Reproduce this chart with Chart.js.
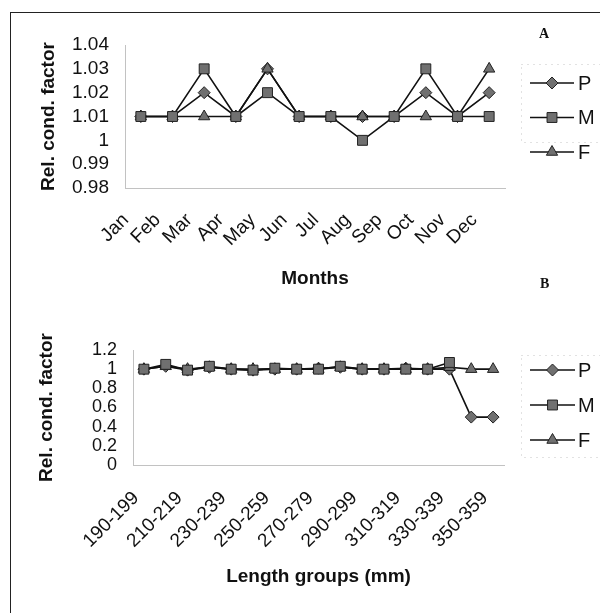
<!DOCTYPE html>
<html>
<head>
<meta charset="utf-8">
<script src="https://cdn.jsdelivr.net/npm/chart.js@4/dist/chart.umd.min.js"></script>
<style>
  html, body { margin:0; padding:0; background:#fff; }
  #wrap { position:relative; width:600px; height:613px; overflow:hidden; background:#fff; }
  #frame { position:absolute; left:10px; top:12px; width:600px; height:620px; border-top:1.5px solid #222; border-left:1.5px solid #222; }
  canvas { position:absolute; left:0; }
  #cA { top:0; }
  #cB { top:300px; }
  .tag { position:absolute; font-family:"Liberation Serif","Times New Roman",serif; font-weight:bold; font-size:14px; color:#111; }
</style>
</head>
<body>
<div id="wrap">
  <div id="frame"></div>
  <canvas id="cA" width="600" height="300"></canvas>
  <canvas id="cB" width="600" height="313"></canvas>
  <div class="tag" style="left:539px; top:26px;">A</div>
  <div class="tag" style="left:540px; top:276px;">B</div>
</div>
<script>
// ---- Panel A data (by month) ----
const months = ['Jan','Feb','Mar','Apr','May','Jun','Jul','Aug','Sep','Oct','Nov','Dec'];
const pA = [1.01, 1.01, 1.02, 1.01, 1.03, 1.01, 1.01, 1.01, 1.01, 1.02, 1.01, 1.02];
const mA = [1.01, 1.01, 1.03, 1.01, 1.02, 1.01, 1.01, 1.00, 1.01, 1.03, 1.01, 1.01];
const fA = [1.01, 1.01, 1.01, 1.01, 1.03, 1.01, 1.01, 1.01, 1.01, 1.01, 1.01, 1.03];
const yTicksA = [0.98, 0.99, 1.00, 1.01, 1.02, 1.03, 1.04];

// ---- Panel B data (by length group) ----
const lengthGroups = ['190-199','200-209','210-219','220-229','230-239','240-249','250-259','260-269','270-279','280-289','290-299','300-309','310-319','320-329','330-339','340-349','350-359'];
const pB = [1.00, 1.03, 0.99, 1.02, 1.00, 0.99, 1.00, 1.00, 1.01, 1.02, 1.00, 1.00, 1.01, 1.00, 1.00, 0.50, 0.50];
const mB = [1.00, 1.05, 0.99, 1.03, 1.00, 0.99, 1.01, 1.00, 1.00, 1.03, 1.00, 1.00, 1.00, 1.00, 1.07, null, null];
const fB = [1.00, 1.03, 1.00, 1.02, 1.00, 1.00, 1.00, 1.00, 1.00, 1.02, 1.00, 1.00, 1.00, 1.00, 1.02, 1.00, 1.00];
const yTicksB = [0, 0.2, 0.4, 0.6, 0.8, 1.0, 1.2];

const seriesNames = ['P', 'M', 'F'];

const FONT = 'Arial, "Liberation Sans", sans-serif';

const lineLegend = {
  id: 'lineLegend',
  afterDraw(chart, args, o) {
    const ctx = chart.ctx;
    ctx.save();
    ctx.strokeStyle = '#c4c4c4';
    ctx.lineWidth = 1;
    ctx.setLineDash([1, 5]);
    ctx.strokeRect(o.box[0] + 0.5, o.box[1] + 0.5, o.box[2], o.box[3]);
    ctx.setLineDash([]);
    chart.data.datasets.forEach((ds, i) => {
      const y = o.y0 + i * o.gap;
      ctx.strokeStyle = '#111';
      ctx.lineWidth = 1.5;
      ctx.beginPath(); ctx.moveTo(o.x0, y); ctx.lineTo(o.x1, y); ctx.stroke();
      ctx.fillStyle = ds.pointBackgroundColor;
      ctx.strokeStyle = ds.pointBorderColor;
      ctx.lineWidth = 1;
      Chart.helpers.drawPoint(ctx, { pointStyle: ds.pointStyle, radius: ds.pointRadius, borderWidth: 1, rotation: 0 }, (o.x0 + o.x1) / 2, y);
      ctx.fillStyle = '#111';
      ctx.font = '20px ' + FONT;
      ctx.textBaseline = 'middle';
      ctx.textAlign = 'left';
      ctx.fillText(ds.label, o.tx, y + 1);
    });
    ctx.restore();
  }
};

function mkDatasets(p, m, f) {
  const base = { borderColor: '#111', borderWidth: 1.6, pointBackgroundColor: '#707070', pointBorderColor: '#222', pointBorderWidth: 1, tension: 0, spanGaps: false, clip: false };
  return [
    Object.assign({}, base, { label: seriesNames[0], data: p, pointStyle: 'rectRot', pointRadius: 6, order: 2 }),
    Object.assign({}, base, { label: seriesNames[1], data: m, pointStyle: 'rect', pointRadius: 7, order: 0 }),
    Object.assign({}, base, { label: seriesNames[2], data: f, pointStyle: 'triangle', pointRadius: 6.5, order: 1 })
  ];
}

function mkChart(id, cfg) {
  return new Chart(document.getElementById(id), {
    type: 'line',
    data: { labels: cfg.labels, datasets: mkDatasets(cfg.p, cfg.m, cfg.f) },
    plugins: [lineLegend],
    options: {
      responsive: false,
      animation: false,
      devicePixelRatio: 1,
      layout: { padding: cfg.padding },
      plugins: { legend: { display: false }, tooltip: { enabled: false }, lineLegend: cfg.legend },
      scales: {
        x: {
          type: 'category',
          offset: true,
          grid: { display: false, drawTicks: false },
          border: { display: true, color: '#c2c2c2', width: 1, dash: [1, 6] },
          ticks: {
            autoSkip: false, minRotation: 45, maxRotation: 45,
            padding: cfg.xPad, labelOffset: cfg.xLabelOffset,
            color: '#111', font: { family: FONT, size: 19 },
            callback: cfg.xCallback
          },
          title: { display: true, text: cfg.xTitle, color: '#111', padding: 0, font: { family: FONT, size: 19, weight: 'bold' } },
          afterFit(s) { s.height = cfg.xHeight; }
        },
        y: {
          min: cfg.yMin, max: cfg.yMax,
          grid: { display: false, drawTicks: false },
          border: { display: true, color: '#c2c2c2', width: 1, dash: [1, 6] },
          afterBuildTicks(s) { s.ticks = cfg.yTicks.map(v => ({ value: v })); },
          ticks: {
            autoSkip: false,
            padding: cfg.yPad, color: '#111', font: { family: FONT, size: cfg.yFont, lineHeight: 1 },
            callback: v => String(+Number(v).toFixed(2))
          },
          title: { display: true, text: 'Rel. cond. factor', color: '#111', padding: 0, font: { family: FONT, size: 19, weight: 'bold' } },
          afterFit(s) { s.width = cfg.yWidth; }
        }
      }
    }
  });
}

mkChart('cA', {
  labels: months, p: pA, m: mA, f: fA,
  yMin: 0.98, yMax: 1.04, yTicks: yTicksA,
  xTitle: 'Months',
  padding: { left: 37, top: 45, right: 95, bottom: 10 },
  yWidth: 88, xHeight: 102, yPad: 16, yFont: 19, xPad: 21, xLabelOffset: -15,
  xCallback: function (v, i) { return this.getLabelForValue(v); },
  legend: { box: [521, 64, 80, 78], x0: 530, x1: 574, y0: 83, gap: 34.5, tx: 578 }
});

mkChart('cB', {
  labels: lengthGroups, p: pB, m: mB, f: fB,
  yMin: 0, yMax: 1.2, yTicks: yTicksB,
  xTitle: 'Length groups (mm)',
  padding: { left: 35, top: 50, right: 96, bottom: 25 },
  yWidth: 98, xHeight: 123, yPad: 16, yFont: 18, xPad: 22, xLabelOffset: -8,
  xCallback: function (v, i) { return i % 2 === 0 ? this.getLabelForValue(v) : ''; },
  legend: { box: [521, 55, 80, 102], x0: 530, x1: 575, y0: 70, gap: 35, tx: 578 }
});
</script>
</body>
</html>
